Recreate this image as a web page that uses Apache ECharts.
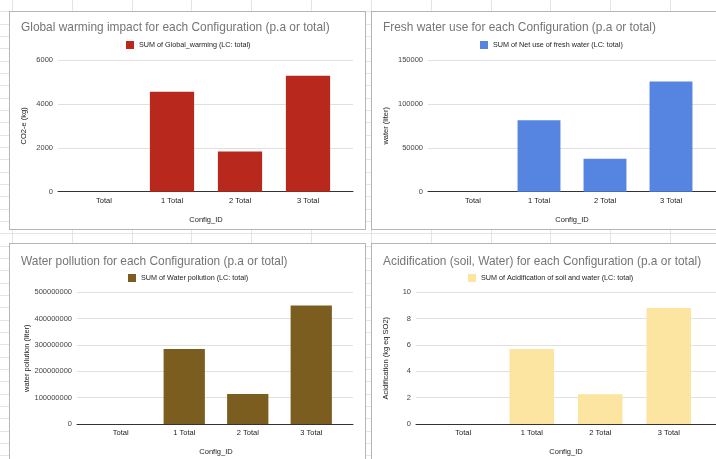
<!DOCTYPE html>
<html>
<head>
<meta charset="utf-8">
<script src="https://cdn.jsdelivr.net/npm/echarts@6/dist/echarts.min.js"></script>
<style>
  html, body { margin: 0; padding: 0; width: 716px; height: 459px; overflow: hidden; background: #ffffff; }
  #sheet {
    position: absolute; left: 0; top: 0; width: 716px; height: 459px;
    background-image:
      repeating-linear-gradient(to right, transparent 0, transparent 12px, #e4e4e4 12px, #e4e4e4 13px, transparent 13px, transparent 59.83px),
      repeating-linear-gradient(to bottom, transparent 0, transparent 11.33px, #e4e4e4 11.33px, #e4e4e4 12.33px);
  }
  .panel { position: absolute; background: #fff; border: 1px solid #b5b5b5; box-sizing: border-box; }
  #chart { position: absolute; left: 0; top: 0; width: 716px; height: 459px; }
</style>
</head>
<body>
<div id="sheet"></div>
<div class="panel" style="left:9px;top:11px;width:357px;height:219px;"></div>
<div class="panel" style="left:371px;top:11px;width:360px;height:219px;"></div>
<div class="panel" style="left:9px;top:243px;width:357px;height:230px;"></div>
<div class="panel" style="left:371px;top:243px;width:360px;height:230px;"></div>
<div id="chart"></div>
<script>
// ---- data ----
const categories = ['Total', '1 Total', '2 Total', '3 Total'];
const globalWarming = [0, 4550, 1830, 5280];
const freshWater = [0, 81500, 37500, 125500];
const waterPollution = [0, 285000000, 114000000, 450000000];
const acidification = [0, 5.7, 2.25, 8.8];

const titles = [
  'Global warming impact for each Configuration (p.a or total)',
  'Fresh water use for each Configuration (p.a or total)',
  'Water pollution for each Configuration (p.a or total)',
  'Acidification (soil, Water) for each Configuration (p.a or total)'
];
const seriesNames = [
  'SUM of Global_warming (LC: total)',
  'SUM of Net use of fresh water (LC: total)',
  'SUM of Water pollution (LC: total)',
  'SUM of Acidification of soil and water (LC: total)'
];
const yNames = ['CO2-e (kg)', 'water (liter)', 'water pollution (liter)', 'Acidification (kg eq SO2)'];
const xName = 'Config_ID';
const yMax = [6000, 150000, 500000000, 10];
const yStep = [2000, 50000, 100000000, 2];
const colors = ['#b8281d', '#5585e0', '#7b5e1f', '#fbe5a1'];
const values = [globalWarming, freshWater, waterPollution, acidification];

// ---- layout (pixels) ----
const layout = [
  { title: [21, 22], legend: [126, 41], wide: [58, 60, 295, 131.7], narrow: [70, 272], yGap: 30 },
  { title: [383, 22], legend: [480, 41], wide: [428, 60, 320, 131.7], narrow: [440, 264], yGap: 38 },
  { title: [21, 256], legend: [128, 274], wide: [77, 292.3, 276, 131.7], narrow: [89, 254], yGap: 46 },
  { title: [383, 256], legend: [468, 274], wide: [416, 292.3, 320, 131.7], narrow: [429, 274], yGap: 26 }
];

const font = 'Liberation Sans, Arial, sans-serif';
const option = { animation: false, title: [], legend: [], grid: [], xAxis: [], yAxis: [], series: [] };

layout.forEach((L, i) => {
  option.title.push({
    text: titles[i], left: L.title[0], top: L.title[1], padding: 0,
    textStyle: { fontFamily: font, fontSize: 11.9, fontWeight: 'normal', color: '#757575' }
  });
  option.legend.push({
    data: [seriesNames[i]], left: L.legend[0], top: L.legend[1], padding: 0,
    icon: 'rect', itemWidth: 8, itemHeight: 8, itemGap: 4,
    textStyle: { fontFamily: font, fontSize: 7.2, color: '#222' }
  });
  option.grid.push({ left: L.wide[0], top: L.wide[1], width: L.wide[2], height: L.wide[3] });
  option.grid.push({ left: L.narrow[0], top: L.wide[1], width: L.narrow[1], height: L.wide[3] });
  const gw = i * 2, gn = i * 2 + 1;
  option.xAxis.push({
    gridIndex: gw, type: 'value', min: 0, max: 1, show: true,
    axisLine: { show: true, lineStyle: { color: '#333', width: 1 } },
    axisTick: { show: false }, axisLabel: { show: false }, splitLine: { show: false }
  });
  option.xAxis.push({
    gridIndex: gn, type: 'category', data: categories,
    axisLine: { show: false }, axisTick: { show: false },
    axisLabel: { fontFamily: font, fontSize: 7.5, color: '#222', margin: 5 },
    name: xName, nameLocation: 'middle', nameGap: 24,
    nameTextStyle: { fontFamily: font, fontSize: 7.5, color: '#222' }
  });
  option.yAxis.push({
    gridIndex: gw, type: 'value', min: 0, max: yMax[i], interval: yStep[i],
    axisLine: { show: false }, axisTick: { show: false },
    axisLabel: { fontFamily: font, fontSize: 7.5, color: '#444', margin: 5, formatter: v => String(v) },
    splitLine: { lineStyle: { color: '#e0e0e0', width: 1 } },
    name: yNames[i], nameLocation: 'middle', nameGap: L.yGap, nameRotate: 90,
    nameTextStyle: { fontFamily: font, fontSize: 7.5, color: '#222' }
  });
  option.yAxis.push({
    gridIndex: gn, type: 'value', min: 0, max: yMax[i], interval: yStep[i], show: false
  });
  option.series.push({
    type: 'bar', name: seriesNames[i], xAxisIndex: gn, yAxisIndex: gn,
    data: values[i], barWidth: '65%', itemStyle: { color: colors[i] }
  });
});

const chart = echarts.init(document.getElementById('chart'), null, { renderer: 'canvas' });
chart.setOption(option);
</script>
</body>
</html>
